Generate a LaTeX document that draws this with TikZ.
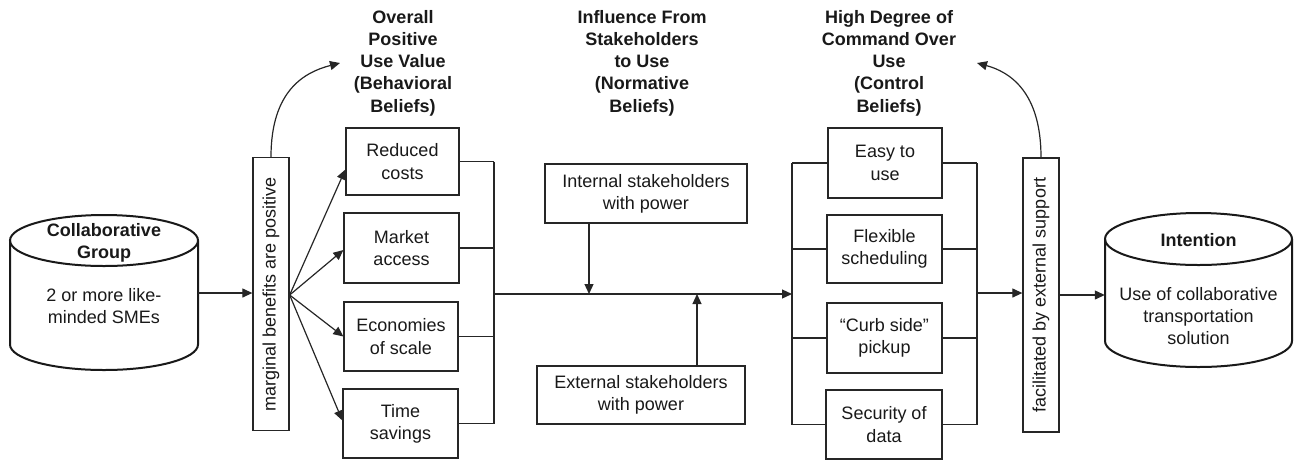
\documentclass[tikz,border=0pt]{standalone}
\usepackage{fontspec}
\setmainfont{Liberation Sans}
\usetikzlibrary{arrows.meta,calc}
\begin{document}
\begin{tikzpicture}[x=1pt,y=-1pt,
  txt/.style={font=\fontsize{18}{22.3}\selectfont, align=center, text=black!90},
  ttl/.style={font=\fontsize{18}{22.3}\selectfont\bfseries, align=center, text=black!90},
  box/.style={draw=black!85, line width=1.3pt, fill=white, inner sep=0pt, txt},
  cyl/.style={draw=black!90, line width=2pt},
  conn/.style={draw=black!85, line width=1.2pt},
  arr/.style={conn, -{Triangle[length=10pt,width=9pt]}},
]
\useasboundingbox (0,0) rectangle (1295,459);

% ---------- left cylinder ----------
\node[inner sep=0pt, minimum width=188pt, minimum height=155pt] (cg) at (104,293) {};
\draw[cyl] (10,240.5) -- (10,344.5) arc[start angle=180, end angle=360, x radius=94pt, y radius=25.5pt] -- (198,240.5);
\draw[cyl] (104,240.5) ellipse [x radius=94pt, y radius=25.5pt];
\node[ttl] (cgt) at (104,243) {Collaborative\\Group};
\node[txt] (cgb) at (104,306) {2 or more like-\\minded SMEs};

% ---------- right cylinder ----------
\node[inner sep=0pt, minimum width=187pt, minimum height=154pt] (ic) at (1198.5,290) {};
\draw[cyl] (1105,239) -- (1105,341) arc[start angle=180, end angle=360, x radius=93.5pt, y radius=26pt] -- (1292,239);
\draw[cyl] (1198.5,239) ellipse [x radius=93.5pt, y radius=26pt];
\node[ttl] (ict) at (1198.5,240) {Intention};
\node[txt] (icb) at (1198.5,316) {Use of collaborative\\transportation\\solution};

% ---------- vertical label boxes ----------
\node[box, minimum width=36pt, minimum height=273pt] (mb) at (271,294) {\rotatebox{90}{marginal benefits are positive}};
\node[box, minimum width=36pt, minimum height=274pt] (fb) at (1041,295) {\rotatebox{90}{facilitated by external support}};

% ---------- titles ----------
\node[ttl] (t1) at (403,63) {Overall\\Positive\\Use Value\\(Behavioral\\Beliefs)};
\node[ttl] (t2) at (642,63) {Influence From\\Stakeholders\\to Use\\(Normative\\Beliefs)};
\node[ttl] (t3) at (889,63) {High Degree of\\Command Over\\Use\\(Control\\Beliefs)};

% ---------- behavioral belief boxes ----------
\node[box, minimum width=113pt, minimum height=67pt] (rc) at (402.5,161.5) {Reduced\\costs};
\node[box, minimum width=115pt, minimum height=70pt] (ma) at (401.5,248) {Market\\access};
\node[box, minimum width=114pt, minimum height=69pt] (es) at (401,336.5) {Economies\\of scale};
\node[box, minimum width=115pt, minimum height=69pt] (ts) at (400.5,423.5) {Time\\savings};

% ---------- control belief boxes ----------
\node[box, minimum width=114pt, minimum height=70pt] (eu) at (885,163) {Easy to\\use};
\node[box, minimum width=115pt, minimum height=68pt] (fs) at (884.5,249) {Flexible\\scheduling};
\node[box, minimum width=115pt, minimum height=70pt] (cs) at (884.5,338) {``Curb side''\\pickup};
\node[box, minimum width=116pt, minimum height=69pt] (sd) at (884,424.5) {Security of\\data};

% ---------- stakeholder boxes ----------
\node[box, minimum width=202pt, minimum height=59pt] (isb) at (646,193.5) {Internal stakeholders\\with power};
\node[box, minimum width=208pt, minimum height=58pt] (esb) at (641,395) {External stakeholders\\with power};

% ---------- coordinates ----------
\coordinate (lb) at (494,294);
\coordinate (rl) at (792,294);
\coordinate (rr) at (977,293);
\coordinate (ia) at (589,294);
\coordinate (ea) at (697,294);
\coordinate (c1) at (340,63);
\coordinate (c2) at (977,63);

% ---------- connectors ----------
\draw[arr] (cg.east) -- (cg.east -| mb.west);
\draw[arr] ([yshift=-1pt]mb.east) -- ([yshift=-8pt]rc.west);
\draw[arr] ([yshift=-1pt]mb.east) -- ([yshift=-2pt]ma.west);
\draw[arr] ([yshift=-1pt]mb.east) -- (es.west);
\draw[arr] ([yshift=-1pt]mb.east) -- ([yshift=3pt]ts.west);

\draw[conn] (rc.east) -- (rc.east -| lb);
\draw[conn] (ma.east) -- (ma.east -| lb);
\draw[conn] (es.east) -- (es.east -| lb);
\draw[conn] (ts.east) -- (ts.east -| lb);
\draw[conn] (rc.east -| lb) -- (ts.east -| lb);

\draw[arr] (lb) -- (rl);
\draw[arr] (isb.south -| ia) -- (ia);
\draw[arr] (esb.north -| ea) -- (ea);

\draw[conn] (eu.west) -- (eu.west -| rl);
\draw[conn] (fs.west) -- (fs.west -| rl);
\draw[conn] (cs.west) -- (cs.west -| rl);
\draw[conn] (sd.west) -- (sd.west -| rl);
\draw[conn] (eu.west -| rl) -- (sd.west -| rl);

\draw[conn] (eu.east) -- (eu.east -| rr);
\draw[conn] (fs.east) -- (fs.east -| rr);
\draw[conn] (cs.east) -- (cs.east -| rr);
\draw[conn] (sd.east) -- (sd.east -| rr);
\draw[conn] (eu.east -| rr) -- (sd.east -| rr);

\draw[arr] (rr) -- (rr -| fb.west);
\draw[arr] (fb.east) -- (fb.east -| ic.west);

\draw[arr] (mb.north) .. controls (271,90) and (305,72) .. (c1);
\draw[arr] (fb.north) .. controls (1041,92) and (1010,72) .. (c2);
\end{tikzpicture}
\end{document}
